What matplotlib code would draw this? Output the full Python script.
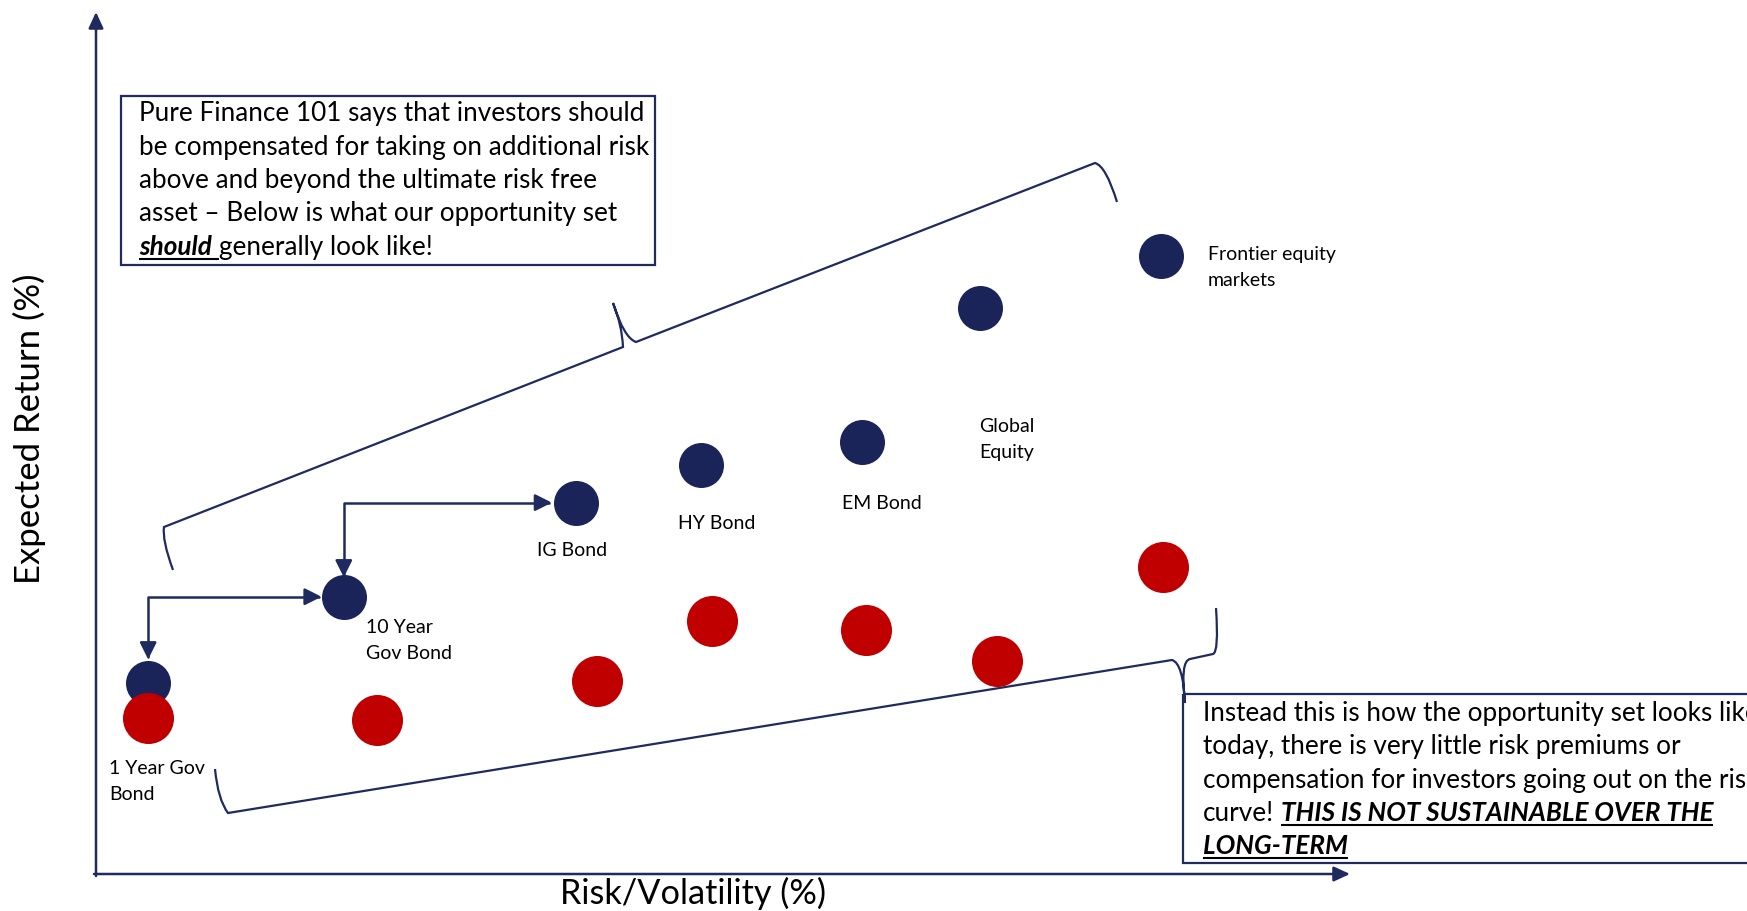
import matplotlib
matplotlib.use("Agg")
import matplotlib.pyplot as plt
from matplotlib.path import Path
from matplotlib.patches import PathPatch, Rectangle

# asset classes, left to right along the risk axis
names = ["1 Year Gov\nBond", "10 Year\nGov Bond", "IG Bond", "HY Bond",
         "EM Bond", "Global\nEquity", "Frontier equity\nmarkets"]

# what the opportunity set should look like (risk %, expected return %)
should_risk = [1.04, 4.94, 9.56, 12.06, 15.28, 17.63, 21.23]
should_ret = [2.66, 3.86, 5.17, 5.69, 6.01, 7.88, 8.60]

# what it looks like today
today_risk = [1.04, 5.61, 9.98, 12.28, 15.36, 17.97, 21.27]
today_ret = [2.17, 2.14, 2.69, 3.52, 3.40, 2.97, 4.27]

top_lines = [
    [("Pure Finance 101 says that investors should", False)],
    [("be compensated for taking on additional risk", False)],
    [("above and beyond the ultimate risk free", False)],
    [("asset \u2013 Below is what our opportunity set", False)],
    [("should", True), ("generally look like!", False)],
]
bottom_lines = [
    [("Instead this is how the opportunity set looks like", False)],
    [("today, there is very little risk premiums or", False)],
    [("compensation for investors going out on the risk", False)],
    [("curve!", False), ("THIS IS NOT SUSTAINABLE OVER THE", True)],
    [("LONG-TERM", True)],
]

plt.rcParams["font.family"] = ["Lato", "DejaVu Sans"]
NAVY = "#1F2A5E"
DOT = "#1B2459"
RED = "#C00000"

W, H = 1747, 911
fig = plt.figure(figsize=(W / 100, H / 100), dpi=100)

# overlay in pixel units for the slide decorations
ax = fig.add_axes([0, 0, 1, 1])
ax.set_xlim(0, W)
ax.set_ylim(H, 0)
ax.set_autoscale_on(False)
ax.axis("off")

# data axes
x0, y0, x1, y1 = 96, 874, 1350, 12
dax = fig.add_axes([x0 / W, 1 - y0 / H, (x1 - x0) / W, (y0 - y1) / H])
dax.set_xlim(0, 25)
dax.set_ylim(0, 12)
dax.patch.set_alpha(0)
dax.axis("off")

# axis arrows
head = dict(arrowstyle="-|>,head_length=0.65,head_width=0.3", color=NAVY,
            lw=1.8, mutation_scale=15, shrinkA=0, shrinkB=0)
ax.annotate("", xy=(96, 12), xytext=(96, 876), arrowprops=head)
ax.annotate("", xy=(1350, 874), xytext=(94, 874), arrowprops=head)

ax.text(29, 429, "Expected Return (%)", rotation=90, ha="center", va="center",
        fontsize=25)
ax.text(693, 904, "Risk/Volatility (%)", ha="center", va="baseline",
        fontsize=24.7)

# text boxes
ax.add_patch(Rectangle((121, 96), 534, 169, fill=False, ec=NAVY, lw=1.6))
ax.add_patch(Rectangle((1183, 694), 600, 169, fill=False, ec=NAVY, lw=1.6,
                       clip_on=False))

renderer = fig.canvas.get_renderer()
inv = ax.transData.inverted()


def rich_line(x, y, parts, size):
    gap = size * 100 / 72 * 0.26
    for i, (txt, strong) in enumerate(parts):
        t = ax.text(x, y, txt, fontsize=size, va="baseline", ha="left",
                    fontweight="bold" if strong else "normal",
                    fontstyle="italic" if strong else "normal")
        bb = t.get_window_extent(renderer=renderer)
        left = inv.transform((bb.x0, bb.y0))[0]
        right = inv.transform((bb.x1, bb.y0))[0]
        end = right + gap if i < len(parts) - 1 else right
        if strong:
            ax.plot([left, end], [y + 4, y + 4], color="black", lw=1.5,
                    solid_capstyle="butt")
        x = end if strong else right + gap


for k, parts in enumerate(top_lines):
    rich_line(139, 121 + 33.5 * k, parts, 18.8)
for k, parts in enumerate(bottom_lines):
    rich_line(1203, 721 + 33.3 * k, parts, 18.8)

# curly braces
P = Path.MOVETO
L = Path.LINETO
C = Path.CURVE3
top_brace = [((173, 570), P), ((162, 540), C), ((164, 527), C),
             ((623, 347), L), ((622, 325), C), ((613, 303), C),
             ((624, 338), C), ((636, 342), C),
             ((1095, 163), L), ((1106, 166), C), ((1117, 202), C)]
bottom_brace = [((215, 769), P), ((218, 800), C), ((228, 813), C),
                ((1172, 660), L), ((1183, 663), C), ((1185, 703), C),
                ((1180, 661), C), ((1190, 659), C),
                ((1213, 654), L), ((1219, 652), C), ((1216, 608), C)]
for br in (top_brace, bottom_brace):
    path = Path([p for p, c in br], [c for p, c in br])
    ax.add_patch(PathPatch(path, fill=False, ec=NAVY, lw=1.6))

# the two opportunity sets
dax.scatter(should_risk, should_ret, s=1050, color=DOT, linewidths=0, zorder=3)
dax.scatter(today_risk, today_ret, s=1350, color=RED, linewidths=0, zorder=4)

# stepped arrows along the first three assets
shrinks = [(17, 16), (14, 17)]
for i, (sa, sb) in enumerate(shrinks):
    dax.annotate("", xy=(should_risk[i + 1], should_ret[i + 1]),
                 xytext=(should_risk[i], should_ret[i]),
                 arrowprops=dict(arrowstyle="<|-|>,head_length=0.6,head_width=0.3",
                                 connectionstyle="angle,angleA=90,angleB=0,rad=0",
                                 color=NAVY, lw=1.8, mutation_scale=17,
                                 shrinkA=sa, shrinkB=sb))

# asset labels, offsets in pixels from the navy dots (first baseline)
offsets = [(-39, -91), (22, -36), (-39, -53), (-23, -64),
           (-20, -67), (-1, -124), (47, -4)]
for name, rx, ry, (dx, dy) in zip(names, should_risk, should_ret, offsets):
    for k, line in enumerate(name.split("\n")):
        dax.annotate(line, (rx, ry), xytext=(dx, dy - 26 * k),
                     textcoords="offset pixels", ha="left", va="baseline",
                     fontsize=14, zorder=5)

fig.savefig("out.png", dpi=100)
